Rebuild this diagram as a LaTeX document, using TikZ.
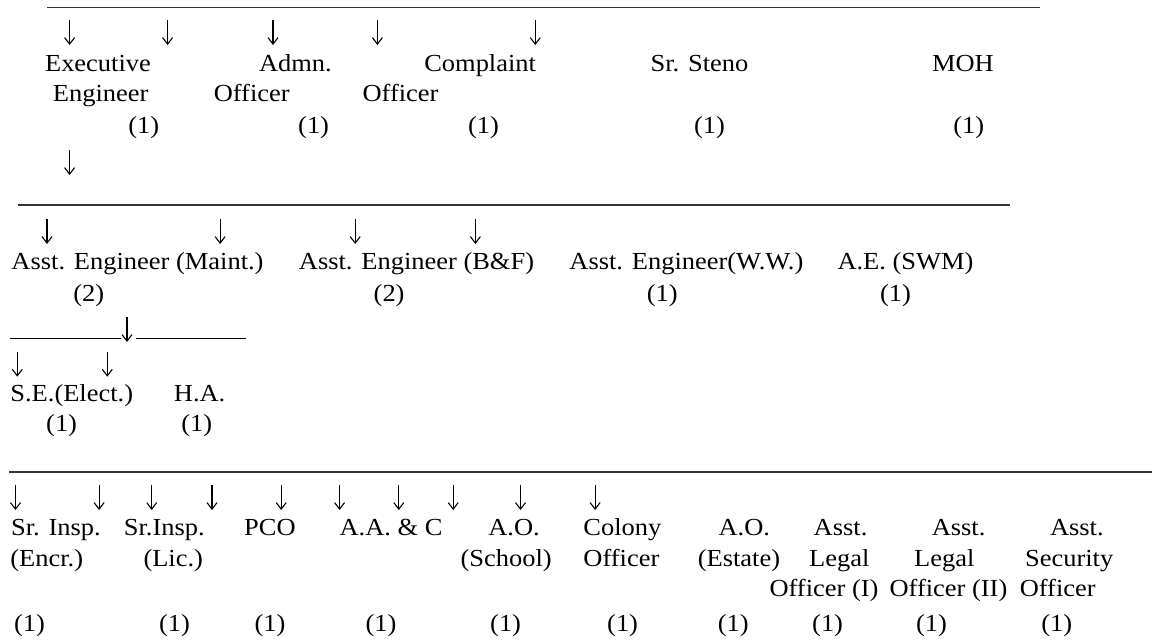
\documentclass[tikz,border=0pt]{standalone}
\usepackage{fontspec}
\setmainfont{Liberation Serif}[FakeStretch=1.08]
\usetikzlibrary{arrows.meta}
\definecolor{rulegray}{HTML}{333333}
\begin{document}
\begin{tikzpicture}[x=1pt,y=-1pt,
  lbl/.style={anchor=base west,inner sep=0pt,outer sep=0pt,font=\fontsize{24.5}{28}\selectfont},
  arr/.style={-{Straight Barb[length=6.5pt,width=10pt]},line width=1.1pt},
  rulethick/.style={line width=1.8pt,draw=rulegray},
  rulethin/.style={line width=1pt,draw=black}]
\useasboundingbox[fill=white] (0,0) rectangle (1152,643);

% ---------- horizontal rules ----------
\coordinate (L1a) at (47.4,7.5);  \coordinate (L1b) at (1040,7.5);
\coordinate (L2a) at (17.8,205);  \coordinate (L2b) at (1010,205);
\coordinate (L3a) at (10,338.3);  \coordinate (L3b) at (121,338.3);
\coordinate (L3c) at (136,338.3); \coordinate (L3d) at (246,338.3);
\coordinate (L4a) at (9.2,471.7); \coordinate (L4b) at (1152,471.7);
\draw[rulethick] (L1a) -- (L1b);
\draw[rulethick] (L2a) -- (L2b);
\draw[rulethin] (L3a) -- (L3b);
\draw[rulethin] (L3c) -- (L3d);
\draw[rulethick] (L4a) -- (L4b);

% ---------- arrows ----------
\foreach \n/\x/\ya/\yb in {
  a1/69.6/20/45, a2/167.6/20/45, a3/273.0/20/45, a4/377.4/20/45, a5/535.3/20/45,
  a6/69.6/150/175,
  b1/47.0/219.3/244, b2/220.1/219.3/244, b3/355.2/219.3/244, b4/475.4/219.3/244,
  c0/127/317/342,
  c1/17.3/351.7/376.7, c2/107.3/351.7/376.7,
  d1/15.5/485/510, d2/99.1/485/510, d3/151.7/485/510, d4/212/485/510,
  d5/281.2/485/510, d6/339.6/485/510, d7/398.8/485/510, d8/453.2/485/510,
  d9/520.5/485/510, d10/595.1/485/510}
{
  \coordinate (\n s) at (\x,\ya);
  \coordinate (\n e) at (\x,\yb);
  \draw[arr] (\n s) -- (\n e);
}

% ---------- row 1 ----------
\node[lbl] (exe1) at (45.1,71) {Executive};
\node[lbl] (adm1) at (259.0,71) {Admn.};
\node[lbl] (com1) at (424.3,71) {Complaint};
\node[lbl] (ste1) at (650.6,71) {Sr. Steno};
\node[lbl] (moh1) at (932,71) {MOH};
\node[lbl] (exe2) at (52.9,101) {Engineer};
\node[lbl] (adm2) at (213.8,101) {Officer};
\node[lbl] (com2) at (362.6,101) {Officer};
\node[lbl] (exen) at (128.4,133) {(1)};
\node[lbl] (admn) at (298.2,133) {(1)};
\node[lbl] (comn) at (468.0,133) {(1)};
\node[lbl] (sten) at (694.0,133) {(1)};
\node[lbl] (mohn) at (953.4,133) {(1)};

% ---------- row 2 ----------
\node[lbl] (aem) at (11.5,269.3) {Asst. Engineer (Maint.)};
\node[lbl] (aeb) at (298.9,269.3) {Asst. Engineer (B\&F)};
\node[lbl] (aew) at (569.4,269.3) {Asst. Engineer(W.W.)};
\node[lbl] (aes) at (837.5,269.3) {A.E. (SWM)};
\node[lbl] (aemn) at (73.3,301.7) {(2)};
\node[lbl] (aebn) at (373.7,301.7) {(2)};
\node[lbl] (aewn) at (646.8,301.7) {(1)};
\node[lbl] (aesn) at (880.1,301.7) {(1)};

% ---------- row 3 ----------
\node[lbl] (see) at (10.4,401.7) {S.E.(Elect.)};
\node[lbl] (ha)  at (173.9,401.7) {H.A.};
\node[lbl] (seen) at (46.2,431.7) {(1)};
\node[lbl] (han)  at (181.3,431.7) {(1)};

% ---------- row 4 ----------
\node[lbl] (s1a) at (11.1,535) {Sr. Insp.};
\node[lbl] (s2a) at (123.9,535) {Sr.Insp.};
\node[lbl] (pco) at (244.2,535) {PCO};
\node[lbl] (aac) at (339.6,535) {A.A. \& C};
\node[lbl] (aoa) at (488.3,535) {A.O.};
\node[lbl] (cola) at (583.4,535) {Colony};
\node[lbl] (aeoa) at (718.6,535) {A.O.};
\node[lbl] (l1a) at (813.7,535) {Asst.};
\node[lbl] (l2a) at (931.8,535) {Asst.};
\node[lbl] (sca) at (1050,535) {Asst.};

\node[lbl] (s1b) at (10.4,566.3) {(Encr.)};
\node[lbl] (s2b) at (143.5,566.3) {(Lic.)};
\node[lbl] (aob) at (460.6,566.3) {(School)};
\node[lbl] (colb) at (583.4,566.3) {Officer};
\node[lbl] (aeob) at (697.8,566.3) {(Estate)};
\node[lbl] (l1b) at (809.2,566.3) {Legal};
\node[lbl] (l2b) at (914.1,566.3) {Legal};
\node[lbl] (scb) at (1025.1,566.3) {Security};

\node[lbl] (l1c) at (769.5,596.7) {Officer (I)};
\node[lbl] (l2c) at (889.6,596.7) {Officer (II)};
\node[lbl] (scc) at (1019.8,596.7) {Officer};

\node[lbl] (s1n) at (14.1,631.7) {(1)};
\node[lbl] (s2n) at (159.1,631.7) {(1)};
\node[lbl] (pcon) at (254.5,631.7) {(1)};
\node[lbl] (aacn) at (365.5,631.7) {(1)};
\node[lbl] (aon) at (490.2,631.7) {(1)};
\node[lbl] (coln) at (607.2,631.7) {(1)};
\node[lbl] (aeon) at (717.8,631.7) {(1)};
\node[lbl] (l1n) at (812.2,631.7) {(1)};
\node[lbl] (l2n) at (916,631.7) {(1)};
\node[lbl] (scn) at (1041.3,631.7) {(1)};
\end{tikzpicture}
\end{document}
